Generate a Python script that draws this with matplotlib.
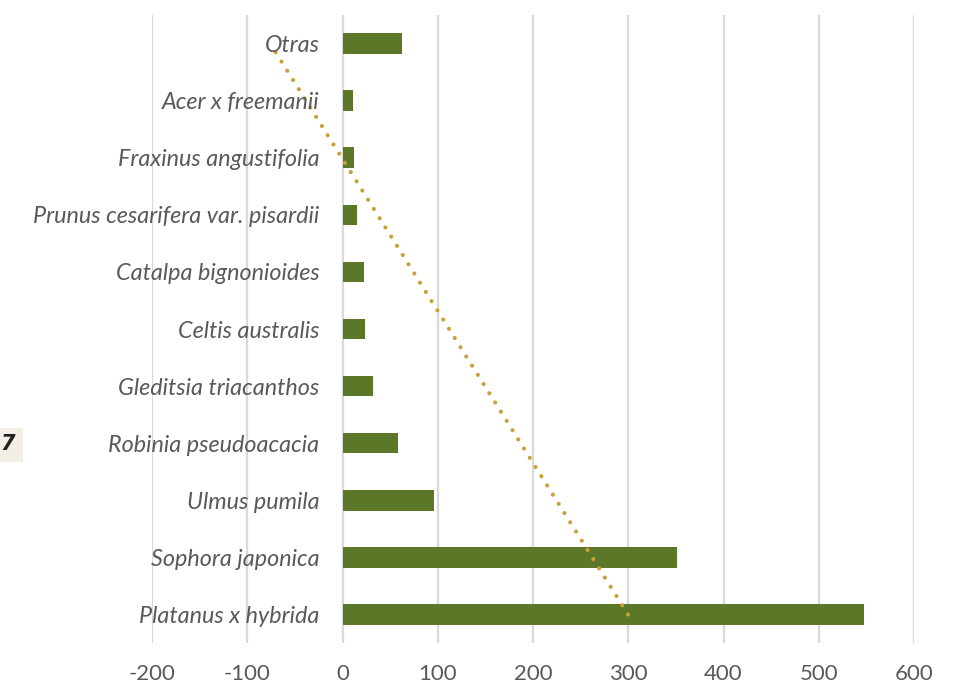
import matplotlib
matplotlib.use("Agg")
import matplotlib.pyplot as plt
import numpy as np
from matplotlib.patches import Rectangle

species = ["Platanus x hybrida", "Sophora japonica", "Ulmus pumila", "Robinia pseudoacacia",
           "Gleditsia triacanthos", "Celtis australis", "Catalpa bignonioides",
           "Prunus cesarifera var. pisardii", "Fraxinus angustifolia", "Acer x freemanii", "Otras"]
counts = [547, 351, 96, 58, 32, 24, 23, 15, 12, 11, 62]
xticks = [-200, -100, 0, 100, 200, 300, 400, 500, 600]

W, H = 966, 688
fig = plt.figure(figsize=(W/100, H/100), dpi=100)
ax = fig.add_axes([152/W, 1-643/H, (914-152)/W, (643-15)/H])

pos = np.arange(1, len(species)+1)
ax.barh(pos, counts, height=0.36, color="#5B7829", zorder=2)

# linear trendline (as Excel)
m, b = np.polyfit(pos, counts, 1)
ax.plot(m*pos[[0, -1]] + b, pos[[0, -1]], linestyle=(0, (0.01, 2.6)), color="#C9A13B",
        linewidth=3.0, dash_capstyle="round", solid_capstyle="round", zorder=3)

ax.set_xlim(-200, 600)
ax.set_ylim(0.5, len(species)+0.5)
ax.set_xticks(xticks)
ax.set_xticklabels([str(v) for v in xticks], fontsize=16, color="#595959", family="Lato")
ax.tick_params(axis="x", length=0, pad=15)
ax.set_yticks([])
ax.grid(axis="x", color="#D9D9D9", linewidth=1.6, zorder=0)
for s in ax.spines.values():
    s.set_visible(False)

for p, name in zip(pos, species):
    ax.annotate(name, xy=(0, p), xytext=(-23, -2), textcoords="offset pixels",
                ha="right", va="center", fontsize=16.8, style="italic", color="#595959",
                family="Lato", zorder=4)

fig.patches.append(Rectangle((0, 1-462/H), 23/W, 34/H, transform=fig.transFigure,
                             facecolor="#F3EFE7", edgecolor="none", zorder=0))
fig.text(0/W, 1-444/H, "7", fontsize=15, fontweight="bold", style="italic",
         color="#222222", va="center", ha="left")

fig.savefig("out.png", dpi=100, facecolor="white")
